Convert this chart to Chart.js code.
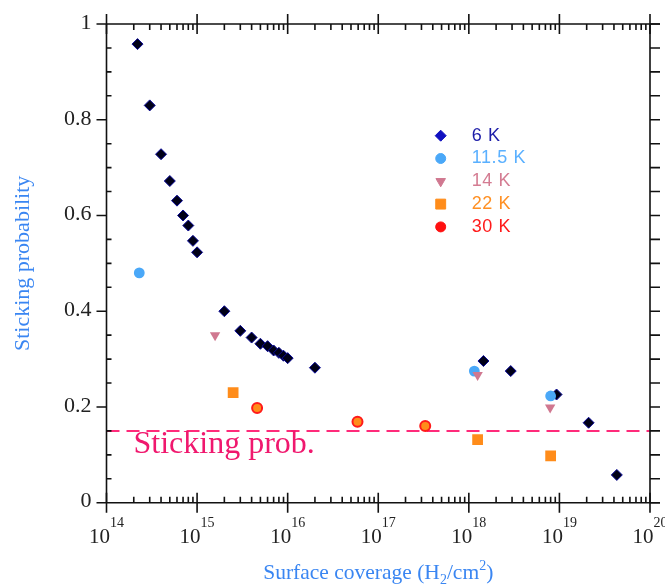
<!DOCTYPE html>
<html>
<head>
<meta charset="utf-8">
<script src="https://cdn.jsdelivr.net/npm/chart.js@4.4.0/dist/chart.umd.min.js"></script>
<style>
  html, body { margin: 0; padding: 0; background: #fff; }
</style>
</head>
<body>
<canvas id="stickingChart" width="665" height="587"></canvas>
<script>
// Sticking probability vs surface coverage, per temperature
const temps = ["6 K", "11.5 K", "14 K", "22 K", "30 K"];

const cov6K = [2.2e14, 3e14, 4e14, 5e14, 6e14, 7e14, 8e14, 9e14, 1e15,
  2e15, 3e15, 4e15, 5e15, 6e15, 7e15, 8e15, 9e15, 1e16, 2e16,
  1.45e18, 2.9e18, 9.3e18, 2.1e19, 4.3e19];
const prob6K = [0.958, 0.830, 0.728, 0.672, 0.631, 0.600, 0.579, 0.547, 0.523,
  0.400, 0.359, 0.345, 0.332, 0.327, 0.318, 0.313, 0.307, 0.302, 0.282,
  0.296, 0.275, 0.226, 0.167, 0.058];

const cov11K = [2.3e14, 1.15e18, 8e18];
const prob11K = [0.480, 0.275, 0.223];

const cov14K = [1.58e15, 1.25e18, 7.9e18];
const prob14K = [0.350, 0.267, 0.199];

const cov22K = [2.5e15, 1.25e18, 8e18];
const prob22K = [0.230, 0.132, 0.098];

const cov30K = [4.6e15, 5.9e16, 3.3e17];
const prob30K = [0.198, 0.169, 0.160];

const refLine = 0.15;
const refLabel = "Sticking prob.";
const xTickExp = [14, 15, 16, 17, 18, 19, 20];
const yTickLabels = [0, 0.2, 0.4, 0.6, 0.8, 1];

const toPoints = (xs, ys) => xs.map((v, i) => ({ x: v, y: ys[i] }));

const legendStyles = [
  { text: "#1c1ca8", style: "rectRot", bg: "#1010c0", border: "#1010c0", r: 5.5, rot: 0 },
  { text: "#5ab0ff", style: "circle", bg: "#4aa8f8", border: "#4aa8f8", r: 5, rot: 0 },
  { text: "#d47c92", style: "triangle", bg: "#d07890", border: "#d07890", r: 5.5, rot: 180 },
  { text: "#ff9024", style: "rect", bg: "#ff8c1a", border: "#ff8c1a", r: 7, rot: 0 },
  { text: "#ff1a1a", style: "circle", bg: "#ff1010", border: "#ff1010", r: 5, rot: 0 }
];

const decorPlugin = {
  id: "decor",
  afterDraw(chart) {
    const { ctx, chartArea: a, scales: { x, y } } = chart;
    ctx.save();
    ctx.strokeStyle = "#111";
    ctx.lineWidth = 1.6;

    // frame
    ctx.beginPath();
    ctx.moveTo(a.left, a.top); ctx.lineTo(a.left, a.bottom);
    ctx.moveTo(a.right, a.top); ctx.lineTo(a.right, a.bottom);
    ctx.moveTo(a.left, a.top); ctx.lineTo(a.right + 10, a.top);
    ctx.moveTo(a.left, a.bottom); ctx.lineTo(a.right + 10, a.bottom);
    ctx.stroke();

    // y ticks
    ctx.beginPath();
    for (let k = 0; k <= 20; k++) {
      const v = k * 0.05;
      const py = y.getPixelForValue(v);
      if (k % 4 === 0) {
        ctx.moveTo(a.left - 10, py); ctx.lineTo(a.left, py);
      } else {
        ctx.moveTo(a.left, py); ctx.lineTo(a.left + 5, py);
      }
      ctx.moveTo(a.right, py); ctx.lineTo(a.right + 10, py);
    }
    // x ticks
    for (const e of xTickExp) {
      for (let m = 1; m <= 9; m++) {
        if (e === 20 && m > 1) break;
        const px = x.getPixelForValue(m * Math.pow(10, e));
        if (m === 1) {
          ctx.moveTo(px, a.bottom - 10); ctx.lineTo(px, a.bottom + 10);
          ctx.moveTo(px, a.top - 10); ctx.lineTo(px, a.top + 10);
        } else {
          ctx.moveTo(px, a.bottom - 6); ctx.lineTo(px, a.bottom);
          ctx.moveTo(px, a.top); ctx.lineTo(px, a.top + 6);
        }
      }
    }
    ctx.stroke();

    // y tick labels
    ctx.fillStyle = "#222";
    ctx.font = "22px 'Liberation Serif'";
    ctx.textAlign = "right";
    ctx.textBaseline = "middle";
    for (const v of yTickLabels) {
      ctx.fillText(String(v), a.left - 15, y.getPixelForValue(v) - 1);
    }

    // x tick labels: 10 with raised exponent
    ctx.textAlign = "left";
    ctx.textBaseline = "alphabetic";
    for (const e of xTickExp) {
      const px = x.getPixelForValue(Math.pow(10, e));
      ctx.font = "21px 'Liberation Serif'";
      const w1 = ctx.measureText("10").width;
      ctx.font = "14px 'Liberation Serif'";
      const w2 = ctx.measureText(String(e)).width;
      const left = px - (w1 + w2) / 2;
      ctx.font = "21px 'Liberation Serif'";
      ctx.fillText("10", left, a.bottom + 40);
      ctx.font = "14px 'Liberation Serif'";
      ctx.fillText(String(e), left + w1, a.bottom + 24);
    }

    // axis titles
    const blue = "#3a86f2";
    ctx.fillStyle = blue;
    const parts = [
      ["Surface coverage (H", 21.5, 0], ["2", 14, 5], ["/cm", 21.5, 0], ["2", 14, -9], [")", 21.5, 0]
    ];
    let total = 0;
    for (const [t, s] of parts) { ctx.font = s + "px 'Liberation Serif'"; total += ctx.measureText(t).width; }
    let cx = (a.left + a.right) / 2 - total / 2;
    const base = a.bottom + 76;
    for (const [t, s, dy] of parts) {
      ctx.font = s + "px 'Liberation Serif'";
      ctx.fillText(t, cx, base + dy);
      cx += ctx.measureText(t).width;
    }

    ctx.save();
    ctx.translate(23, (a.top + a.bottom) / 2);
    ctx.rotate(-Math.PI / 2);
    ctx.font = "22px 'Liberation Serif'";
    ctx.textAlign = "center";
    ctx.textBaseline = "middle";
    ctx.fillText("Sticking probability", 0, 0);
    ctx.restore();

    // reference line label
    ctx.fillStyle = "#f0186e";
    ctx.font = "32px 'Liberation Serif'";
    ctx.textAlign = "left";
    ctx.fillText(refLabel, a.left + 27, y.getPixelForValue(refLine) + 22);

    // legend
    ctx.font = "18px 'Liberation Sans'";
    ctx.letterSpacing = "0.6px";
    ctx.textBaseline = "middle";
    temps.forEach((t, i) => {
      const st = legendStyles[i];
      const ly = 135.7 + i * 22.8;
      ctx.fillStyle = st.bg;
      ctx.strokeStyle = st.border;
      ctx.lineWidth = 1;
      Chart.helpers.drawPoint(ctx, { pointStyle: st.style, radius: st.r, rotation: st.rot, borderWidth: 1 }, 440.7, ly);
      ctx.fillStyle = st.text;
      ctx.fillText(t, 471.7, ly);
    });
    ctx.restore();
  }
};

new Chart(document.getElementById("stickingChart").getContext("2d"), {
  type: "scatter",
  data: {
    datasets: [
      {
        label: temps[0], data: toPoints(cov6K, prob6K), order: 5,
        pointStyle: "rectRot", pointRadius: 5.5, pointBackgroundColor: "#000018",
        pointBorderColor: "#0a0a9a", pointBorderWidth: 1
      },
      {
        label: temps[1], data: toPoints(cov11K, prob11K), order: 4,
        pointStyle: "circle", pointRadius: 5.4, pointBackgroundColor: "#4aa8f8",
        pointBorderColor: "#4aa8f8", pointBorderWidth: 0
      },
      {
        label: temps[2], data: toPoints(cov14K, prob14K), order: 3,
        pointStyle: "triangle", pointRotation: 180, pointRadius: 6, pointBackgroundColor: "#d07890",
        pointBorderColor: "#d07890", pointBorderWidth: 0
      },
      {
        label: temps[3], data: toPoints(cov22K, prob22K), order: 2,
        pointStyle: "rect", pointRadius: 7.6, pointBackgroundColor: "#ff8c1a",
        pointBorderColor: "#ff8c1a", pointBorderWidth: 0
      },
      {
        label: temps[4], data: toPoints(cov30K, prob30K), order: 1,
        pointStyle: "circle", pointRadius: 5, pointBackgroundColor: "#ff8c1a",
        pointBorderColor: "#ff1a1a", pointBorderWidth: 2
      },
      {
        type: "line", label: refLabel, order: 10,
        data: [{ x: Math.pow(10, xTickExp[0]), y: refLine }, { x: Math.pow(10, xTickExp[xTickExp.length - 1]), y: refLine }],
        borderColor: "#ff2a7a", borderWidth: 2, borderDash: [13, 7],
        pointRadius: 0, fill: false
      }
    ]
  },
  options: {
    responsive: false,
    animation: false,
    layout: { padding: { left: 106.5, right: 15, top: 24, bottom: 84.3 } },
    plugins: { legend: { display: false }, tooltip: { enabled: false } },
    scales: {
      x: { type: "logarithmic", min: 1e14, max: 1e20, display: false },
      y: { type: "linear", min: 0, max: 1, display: false }
    }
  },
  plugins: [decorPlugin]
});
</script>
</body>
</html>
